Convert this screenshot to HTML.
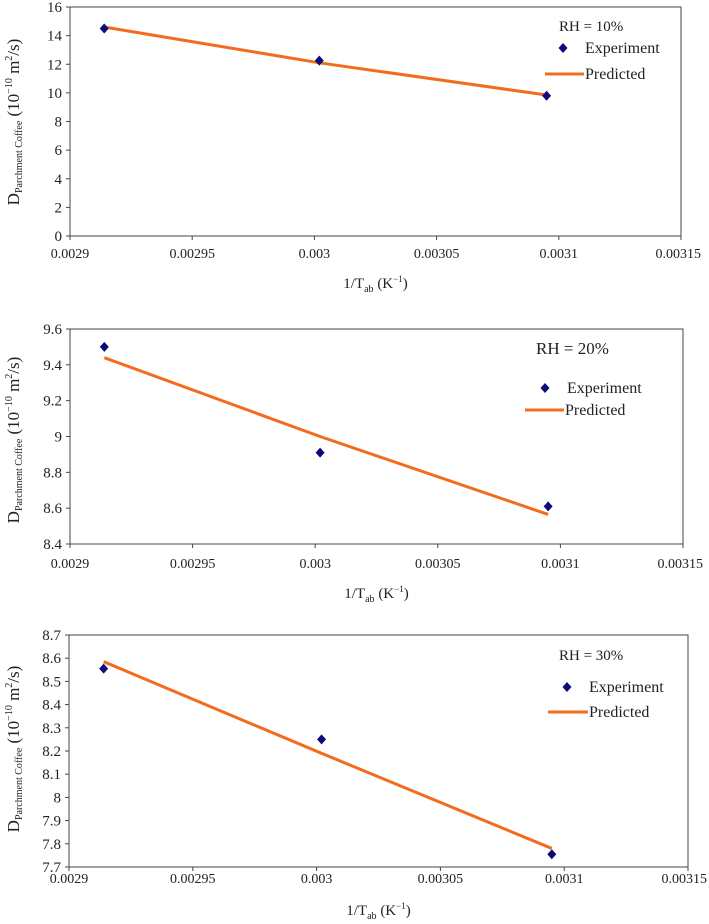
<!DOCTYPE html>
<html><head><meta charset="utf-8">
<style>
html,body{margin:0;padding:0;background:#fff;}
svg{display:block;font-family:"Liberation Serif",serif;}
</style></head>
<body>
<svg id="svg" width="709" height="924" viewBox="0 0 709 924"></svg>
<script>
const xVals = [0.002914, 0.003002, 0.003095];
const xTicks = [0.0029, 0.00295, 0.003, 0.00305, 0.0031, 0.00315];
const xTickLabels = ["0.0029","0.00295","0.003","0.00305","0.0031","0.00315"];
const exp10 = [14.5, 12.25, 9.8];
const pred10 = [14.6, 12.1, 9.85];
const exp20 = [9.5, 8.91, 8.61];
const pred20 = [9.44, 9.0, 8.565];
const exp30 = [8.555, 8.25, 7.755];
const pred30 = [8.585, 8.19, 7.78];
const yTicks10 = [0,2,4,6,8,10,12,14,16];
const yTicks20 = [8.4,8.6,8.8,9,9.2,9.4,9.6];
const yTicks30 = [7.7,7.8,7.9,8,8.1,8.2,8.3,8.4,8.5,8.6,8.7];
const rhLabels = ["RH = 10%","RH = 20%","RH = 30%"];

const NS = "http://www.w3.org/2000/svg";
const svg = document.getElementById('svg');
function mk(tag, attrs, parent){
  const e = document.createElementNS(NS, tag);
  for (const k in attrs) e.setAttribute(k, attrs[k]);
  (parent||svg).appendChild(e);
  return e;
}

const charts = [
  {exp:exp10, pred:pred10, yt:yTicks10, ymin:0, ymax:16, L:70, R:681, T:7, B:236, xly:258, xty:288, tcy:122,
   rh:[559,31], em:[563,48], lx:[545,584,74]},
  {exp:exp20, pred:pred20, yt:yTicks20, ymin:8.4, ymax:9.6, L:70, R:683, T:329, B:544, xly:568, xty:598, tcy:440,
   rh:[536,354], em:[545,388], lx:[525,564,410]},
  {exp:exp30, pred:pred30, yt:yTicks30, ymin:7.7, ymax:8.7, L:69, R:688, T:635, B:867, xly:883, xty:915, tcy:749,
   rh:[559,660], em:[567,687], lx:[548,588,712]}
];

charts.forEach((c, ci) => {
  const g = mk('g', {});
  
  
  const xs = v => c.L + (v - 0.0029) / (0.00315 - 0.0029) * (c.R - c.L);
  const ys = v => c.B - (v - c.ymin) / (c.ymax - c.ymin) * (c.B - c.T);

  const frame = mk('rect', {x:c.L, y:c.T, width:c.R-c.L, height:c.B-c.T, fill:'none', stroke:'#444', 'stroke-width':1}, g);
  
  

  c.yt.forEach(v => {
    const y = ys(v);
    mk('line', {x1:c.L-4, x2:c.L, y1:y, y2:y, stroke:'#444'}, g);
    const t = mk('text', {x:c.L-8, y:y+5, 'text-anchor':'end', 'font-size':15, fill:'#222'}, g);
    t.textContent = String(v);
    
    
  });
  xTicks.forEach((v, i) => {
    const x = xs(v);
    mk('line', {x1:x, x2:x, y1:c.B, y2:c.B+4, stroke:'#444'}, g);
    const last = i === xTicks.length - 1;
    const t = mk('text', {x:last ? Math.min(x + 20, 707) : x, y:c.xly, 'text-anchor':last ? 'end' : 'middle', 'font-size':14, fill:'#222'}, g);
    t.textContent = xTickLabels[i];
    
    
  });

  const xt = mk('text', {x:(c.L+c.R)/2, y:c.xty, 'text-anchor':'middle', 'font-size':15, fill:'#222'}, g);
  xt.innerHTML = '1/T<tspan font-size="10" dy="4">ab</tspan><tspan dy="-4"> (K</tspan><tspan font-size="9" dy="-6">−1</tspan><tspan dy="6">)</tspan>';
  
  

  const yt = mk('text', {x:0, y:0, 'text-anchor':'middle', 'font-size':17, fill:'#222', transform:`translate(19,${c.tcy}) rotate(-90)`}, g);
  yt.innerHTML = 'D<tspan font-size="10" dy="3">Parchment Coffee</tspan><tspan dy="-3"> (10</tspan><tspan font-size="10" dy="-7">−10</tspan><tspan dy="7"> m</tspan><tspan font-size="10" dy="-7">2</tspan><tspan dy="7">/s)</tspan>';
  
  

  const pts = c.pred.map((v, i) => xs(xVals[i]) + ',' + ys(v)).join(' ');
  const pl = mk('polyline', {points:pts, fill:'none', stroke:'#f26c1e', 'stroke-width':3}, g);
  
  

  c.exp.forEach((v, i) => {
    const x = xs(xVals[i]), y = ys(v);
    const d = mk('polygon', {points:`${x},${y-5} ${x+4.5},${y} ${x},${y+5} ${x-4.5},${y}`, fill:'#0b0b7a'}, g);
    
    
  });

  const rh = mk('text', {x:c.rh[0], y:c.rh[1], 'font-size':ci==1?17:15, fill:'#222'}, g);
  rh.textContent = rhLabels[ci];
  
  

  const [mx, my] = c.em;
  const lm = mk('polygon', {points:`${mx},${my-5} ${mx+4.5},${my} ${mx},${my+5} ${mx-4.5},${my}`, fill:'#0b0b7a'}, g);
  
  
  const le = mk('text', {x:mx+22, y:my+5, 'font-size':16, fill:'#222'}, g);
  le.textContent = 'Experiment';
  
  

  const [lx1, lx2, ly] = c.lx;
  const ll = mk('line', {x1:lx1, x2:lx2, y1:ly, y2:ly, stroke:'#f26c1e', 'stroke-width':3}, g);
  
  
  const lp = mk('text', {x:lx2+1, y:ly+5, 'font-size':16, fill:'#222'}, g);
  lp.textContent = 'Predicted';
  
  
});
</script>
</body></html>
